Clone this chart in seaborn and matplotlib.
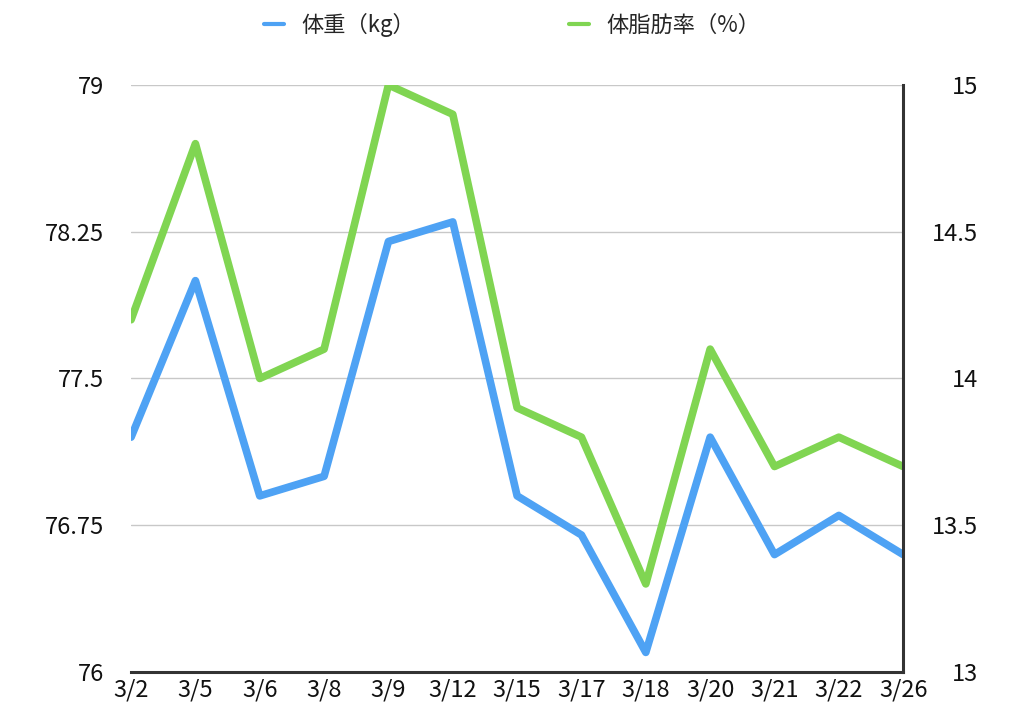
import numpy as np
import pandas as pd
import seaborn as sns
import matplotlib.pyplot as plt
from matplotlib.lines import Line2D

# データ
dates = ['3/2', '3/5', '3/6', '3/8', '3/9', '3/12', '3/15', '3/17', '3/18', '3/20', '3/21', '3/22', '3/26']
weight = [77.2, 78.0, 76.9, 77.0, 78.2, 78.3, 76.9, 76.7, 76.1, 77.2, 76.6, 76.8, 76.6]
body_fat = [14.2, 14.8, 14.0, 14.1, 15.0, 14.9, 13.9, 13.8, 13.3, 14.1, 13.7, 13.8, 13.7]
left_ticks = [76, 76.75, 77.5, 78.25, 79]
left_labels = ['76', '76.75', '77.5', '78.25', '79']
right_ticks = [13, 13.5, 14, 14.5, 15]
right_labels = ['13', '13.5', '14', '14.5', '15']

sns.set_theme(style='white')
plt.rcParams['font.family'] = ['Noto Sans CJK JP', 'DejaVu Sans']

blue = '#4ea2f4'
green = '#80d552'

df = pd.DataFrame({'x': np.arange(len(dates)), 'weight': weight, 'fat': body_fat})

fig = plt.figure(figsize=(10.24, 7.26), dpi=100)
ax = fig.add_axes([0.128, 0.0744, 0.754, 0.8086])
ax2 = ax.twinx()

sns.lineplot(data=df, x='x', y='weight', ax=ax, color=blue, linewidth=5.5)
sns.lineplot(data=df, x='x', y='fat', ax=ax2, color=green, linewidth=5.5)

# 左軸
ax.set_xlim(0, len(dates) - 1)
ax.set_ylim(76, 79)
ax.set_yticks(left_ticks)
ax.set_yticklabels(left_labels)
ax.set_xticks(np.arange(len(dates)))
ax.set_xticklabels(dates)
ax.set_xlabel('')
ax.set_ylabel('')
ax.grid(axis='y', color='#c8c8c8', linewidth=1)
ax.set_axisbelow(True)
ax.tick_params(axis='y', length=0, pad=19.5, labelsize=17, colors='#111111')
ax.tick_params(axis='x', length=0, pad=5, labelsize=17, colors='#111111')

# 右軸
ax2.set_ylim(13, 15)
ax2.set_yticks(right_ticks)
ax2.set_yticklabels(right_labels, ha='right')
ax2.set_ylabel('')
ax2.tick_params(axis='y', length=0, pad=54, labelsize=17, colors='#111111')

for a in (ax, ax2):
    for side in ('left', 'top', 'bottom', 'right'):
        a.spines[side].set_visible(False)
ax.spines['bottom'].set_visible(True)
ax.spines['bottom'].set_color('#333333')
ax.spines['bottom'].set_linewidth(2.2)
ax2.spines['right'].set_visible(True)
ax2.spines['right'].set_color('#333333')
ax2.spines['right'].set_linewidth(2.2)

# 凡例
handles = [Line2D([], [], color=blue, linewidth=3), Line2D([], [], color=green, linewidth=3)]
fig.legend(handles, ['体重（kg）', '体脂肪率（%）'], loc='center', bbox_to_anchor=(0.5, 0.966),
           ncol=2, frameon=False, fontsize=16, handlelength=0.9, handletextpad=0.8,
           columnspacing=6.9)

plt.savefig('out.png', dpi=100)
